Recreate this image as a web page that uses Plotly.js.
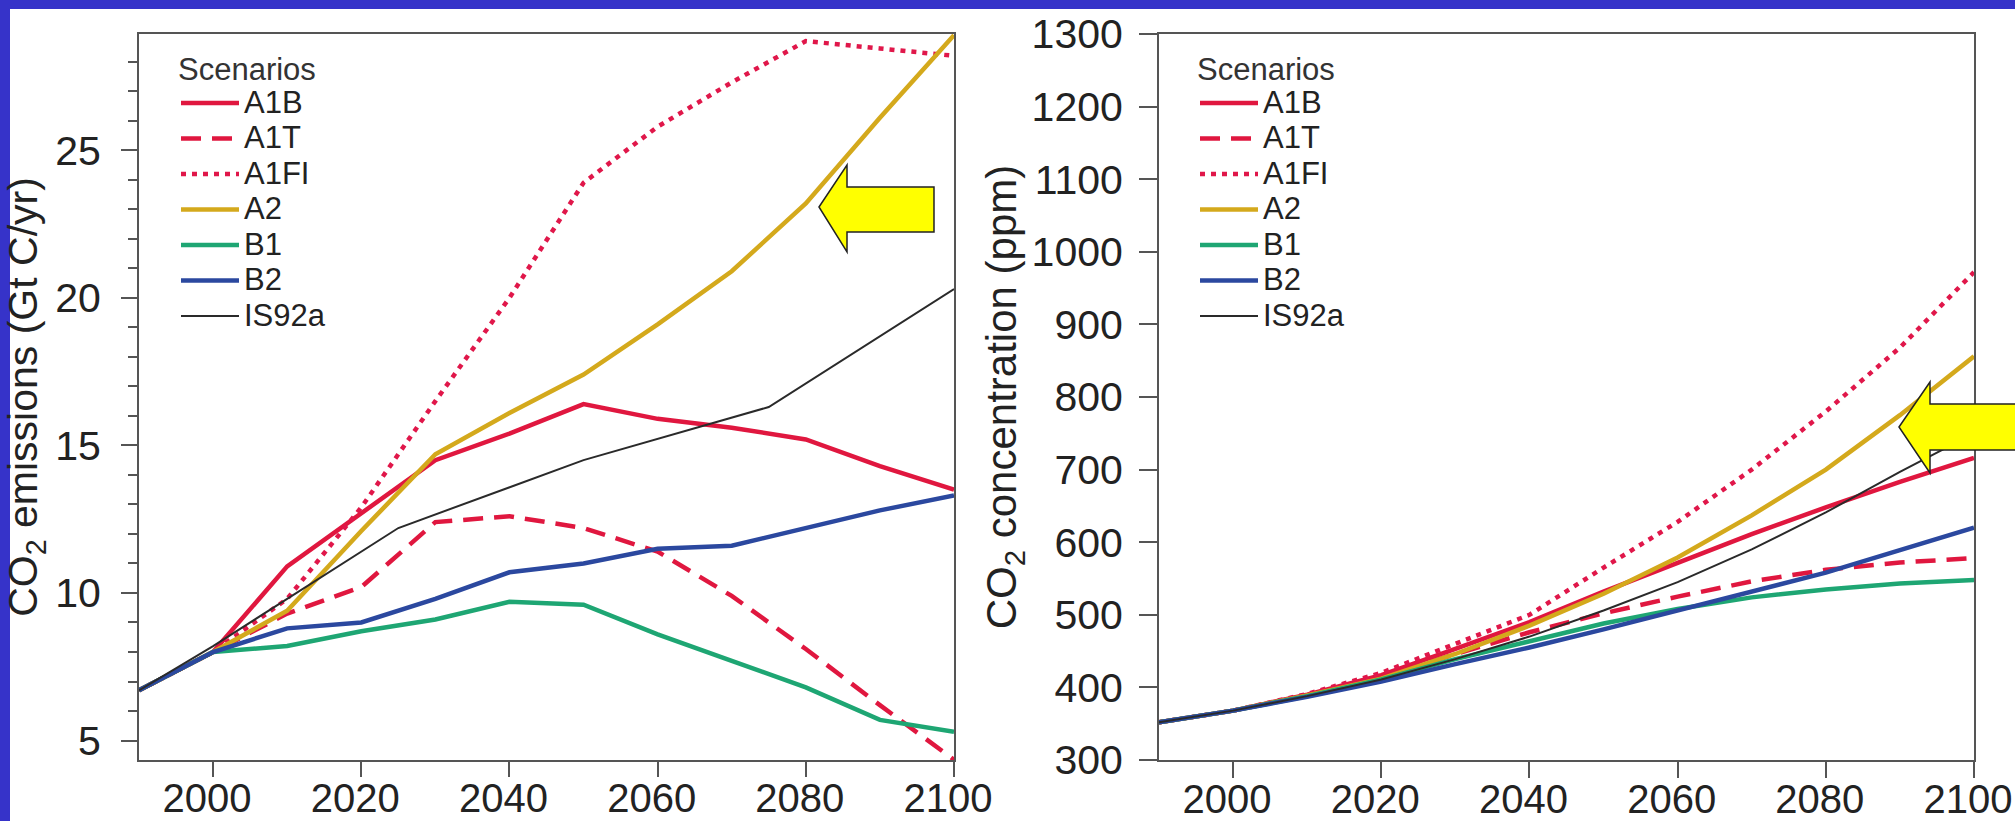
<!DOCTYPE html>
<html>
<head>
<meta charset="utf-8">
<script src="https://cdn.plot.ly/plotly-3.0.1.min.js"></script>
<style>
html, body { margin: 0; padding: 0; background: #ffffff; }
#chart { width: 2015px; height: 821px; }
</style>
</head>
<body>
<div id="chart"></div>
<script>
// ---------- data ----------
const years = [1990, 2000, 2010, 2020, 2030, 2040, 2050, 2060, 2070, 2080, 2090, 2100];
const scenarioNames = ['A1B', 'A1T', 'A1FI', 'A2', 'B1', 'B2', 'IS92a'];

// CO2 emissions (Gt C/yr)
const emisA1B  = [6.7, 8.0, 10.9, 12.7, 14.5, 15.4, 16.4, 15.9, 15.6, 15.2, 14.3, 13.5];
const emisA1T  = [6.7, 8.0, 9.3, 10.2, 12.4, 12.6, 12.2, 11.4, 9.9, 8.1, 6.2, 4.35];
const emisA1FI = [6.7, 8.0, 9.8, 12.9, 16.5, 20.0, 23.9, 25.8, 27.3, 28.7, 28.45, 28.2];
const emisA2   = [6.7, 8.0, 9.4, 12.1, 14.7, 16.1, 17.4, 19.1, 20.9, 23.2, 26.1, 28.9];
const emisB1   = [6.7, 8.0, 8.2, 8.7, 9.1, 9.7, 9.6, 8.6, 7.7, 6.8, 5.7, 5.3];
const emisB2   = [6.7, 8.0, 8.8, 9.0, 9.8, 10.7, 11.0, 11.5, 11.6, 12.2, 12.8, 13.3];
const is92aYears = [1990, 2000, 2025, 2050, 2075, 2100];
const emisIS92a  = [6.7, 8.2, 12.2, 14.5, 16.3, 20.3];

// CO2 concentration (ppm)
const concA1B  = [352, 368, 390, 417, 453, 490, 532, 572, 611, 648, 683, 716];
const concA1T  = [352, 368, 389, 414, 446, 476, 502, 525, 546, 562, 572, 578];
const concA1FI = [352, 368, 391, 420, 460, 500, 565, 628, 700, 780, 868, 972];
const concA2   = [352, 368, 389, 412, 446, 485, 529, 579, 637, 700, 775, 856];
const concB1   = [352, 368, 388, 411, 439, 463, 488, 508, 524, 535, 543, 548];
const concB2   = [352, 368, 387, 408, 432, 455, 480, 506, 532, 558, 589, 620];
const concIS92a = [352, 368, 388, 411, 439, 470, 506, 545, 590, 641, 697, 750];

// ticks
const xTicks = [2000, 2020, 2040, 2060, 2080, 2100];
const xTickText = ['2000', '2020', '2040', '2060', '2080', '2100'];
const emisTicks = [5, 10, 15, 20, 25];
const concTicks = [300, 400, 500, 600, 700, 800, 900, 1000, 1100, 1200, 1300];

// ---------- styles ----------
const styles = {
  'A1B':   {color: '#e0173f', width: 4.5, dash: 'solid'},
  'A1T':   {color: '#e0173f', width: 4.5, dash: '20px,11px'},
  'A1FI':  {color: '#e0174a', width: 4.5, dash: '5px,6px'},
  'A2':    {color: '#d4a91c', width: 4.5, dash: 'solid'},
  'B1':    {color: '#1ea673', width: 4.5, dash: 'solid'},
  'B2':    {color: '#2b489f', width: 4.5, dash: 'solid'},
  'IS92a': {color: '#2a2a2a', width: 2,   dash: 'solid'}
};
const legendLabel = name => '<span style="font-size:31px">' + name + '</span>';

const emisSeries = [emisA1B, emisA1T, emisA1FI, emisA2, emisB1, emisB2, emisIS92a];
const concSeries = [concA1B, concA1T, concA1FI, concA2, concB1, concB2, concIS92a];

const traces = [];
scenarioNames.forEach((name, i) => {
  traces.push({
    type: 'scatter', mode: 'lines', name: legendLabel(name),
    x: name === 'IS92a' ? is92aYears : years,
    y: emisSeries[i],
    xaxis: 'x', yaxis: 'y', legend: 'legend',
    line: styles[name], hoverinfo: 'skip'
  });
});
scenarioNames.forEach((name, i) => {
  traces.push({
    type: 'scatter', mode: 'lines', name: legendLabel(name),
    x: years, y: concSeries[i],
    xaxis: 'x2', yaxis: 'y2', legend: 'legend2',
    line: styles[name], hoverinfo: 'skip'
  });
});

// ---------- layout ----------
const W = 2015, H = 821;
const px = v => v / W;
const py = v => 1 - v / H;
const FONT = 'Liberation Sans, Arial, Helvetica, sans-serif';
const axisCommon = {
  showline: true, linecolor: '#555', linewidth: 2, mirror: true,
  ticks: 'outside', tickcolor: '#555', tickwidth: 2,
  showgrid: false, zeroline: false, ticklabeloverflow: 'allow',
  tickfont: {family: FONT, size: 41, color: '#222'}
};
const legendCommon = {
  xanchor: 'left', yanchor: 'top', y: py(40),
  bgcolor: 'rgba(0,0,0,0)', borderwidth: 0,
  font: {family: FONT, size: 25, color: '#222'},
  title: {text: 'Scenarios', font: {family: FONT, size: 31, color: '#333'}},
  itemwidth: 58, tracegroupgap: 0
};

function arrow(tipX, tipY, headX, headTop, headBot, bodyTop, bodyBot, endX) {
  const pts = [[tipX, tipY], [headX, headTop], [headX, bodyTop], [endX, bodyTop],
               [endX, bodyBot], [headX, bodyBot], [headX, headBot]];
  return 'M' + pts.map(p => px(p[0]).toFixed(5) + ',' + py(p[1]).toFixed(5)).join(' L') + ' Z';
}

const layout = {
  width: W, height: H,
  margin: {l: 0, r: 0, t: 0, b: 0},
  paper_bgcolor: '#ffffff', plot_bgcolor: '#ffffff',
  font: {family: FONT, color: '#222'},
  showlegend: true,
  xaxis: Object.assign({}, axisCommon, {
    domain: [px(139), px(954)], range: [1990, 2100], anchor: 'y',
    tickmode: 'array', tickvals: xTicks, ticktext: xTickText,
    ticklen: 15, ticklabelstandoff: -13, ticklabelshift: -6,
    tickfont: {family: FONT, size: 40, color: '#222'}
  }),
  yaxis: Object.assign({}, axisCommon, {
    domain: [py(760), py(34)], range: [4.34, 28.94], anchor: 'x',
    tickmode: 'array', tickvals: emisTicks, ticklen: 16, ticklabelstandoff: 12,
    minor: {tickmode: 'linear', tick0: 0, dtick: 1, ticks: 'outside', ticklen: 9, tickcolor: '#555', tickwidth: 2},
    title: {text: 'CO<sub>2</sub> emissions (Gt C/yr)', font: {family: FONT, size: 41, color: '#222'}, standoff: 8}
  }),
  xaxis2: Object.assign({}, axisCommon, {
    domain: [px(1159), px(1974)], range: [1990, 2100], anchor: 'y2',
    tickmode: 'array', tickvals: xTicks, ticktext: xTickText,
    ticklen: 16, ticklabelstandoff: -13, ticklabelshift: -6,
    tickfont: {family: FONT, size: 40, color: '#222'}
  }),
  yaxis2: Object.assign({}, axisCommon, {
    domain: [py(760), py(34)], range: [300, 1300], anchor: 'x2',
    tickmode: 'array', tickvals: concTicks, ticklen: 18, ticklabelstandoff: 8,
    title: {text: 'CO<sub>2</sub> concentration (ppm)', font: {family: FONT, size: 42, color: '#222'}, standoff: 2}
  }),
  legend: Object.assign({}, legendCommon, {x: px(176)}),
  legend2: Object.assign({}, legendCommon, {x: px(1195)}),
  shapes: [
    {type: 'rect', xref: 'paper', yref: 'paper', x0: 0, x1: 1, y0: py(9), y1: 1,
     fillcolor: '#3633c9', line: {width: 0}, layer: 'above'},
    {type: 'rect', xref: 'paper', yref: 'paper', x0: 0, x1: px(10), y0: 0, y1: 1,
     fillcolor: '#3633c9', line: {width: 0}, layer: 'above'},
    {type: 'path', xref: 'paper', yref: 'paper', layer: 'above',
     path: arrow(819, 207, 847, 165, 252, 187, 232, 934),
     fillcolor: '#ffff00', line: {color: '#222', width: 1.5}},
    {type: 'path', xref: 'paper', yref: 'paper', layer: 'above',
     path: arrow(1899, 427, 1930, 382, 473, 404, 450, 2017),
     fillcolor: '#ffff00', line: {color: '#222', width: 1.5}}
  ]
};

Plotly.newPlot('chart', traces, layout, {displayModeBar: false, staticPlot: true});
</script>
</body>
</html>
